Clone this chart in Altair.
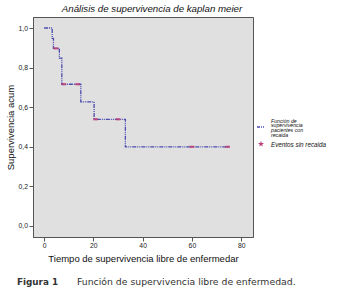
import altair as alt
import pandas as pd

# Kaplan-Meier step curve (time, cumulative survival)
step_time = [0, 3.3, 3.8, 6.2, 7.2, 14.9, 20.3, 33.0, 75.0]
step_surv = [1.0, 0.948, 0.897, 0.848, 0.716, 0.627, 0.539, 0.40, 0.40]

# Censored observations ("Eventos sin recaida")
cens_time = [4.8, 8.0, 13.6, 20.9, 30.0, 60.0, 74.5]
cens_surv = [0.897, 0.716, 0.716, 0.539, 0.539, 0.40, 0.40]

x_ticks = [0, 20, 40, 60, 80]
y_ticks = [0.0, 0.2, 0.4, 0.6, 0.8, 1.0]

title_text = "Análisis de supervivencia de kaplan meier"
x_title = "Tiempo de supervivencia libre de enfermedar"
y_title = "Supervivencia acum"
legend_line_label = ["Función de", "supervivencia", "pacientes con", "recaida"]
legend_point_label = "Eventos sin recaida"
caption_bold = "Figura 1"
caption_text = "Función de supervivencia libre de enfermedad."

LINE_COLOR = "#4a4ab0"
CENS_COLOR = "#b8407a"

km = pd.DataFrame({"t": step_time, "s": step_surv})
cens = pd.DataFrame({"t": cens_time, "s": cens_surv})
one = pd.DataFrame({"k": [0]})

xscale = alt.Scale(domain=[-4.5, 84.8], nice=False, zero=False)
yscale = alt.Scale(domain=[-0.0556, 1.0556], nice=False, zero=False)

x_enc = alt.X("t:Q", scale=xscale, axis=alt.Axis(
    values=x_ticks, title=x_title, grid=False, format="d"))
y_enc = alt.Y("s:Q", scale=yscale, axis=alt.Axis(
    values=y_ticks, title=y_title, grid=False,
    labelExpr="replace(format(datum.value, '.1f'), '.', ',')"))

line = alt.Chart(km).mark_line(
    interpolate="step-after", color=LINE_COLOR, strokeWidth=1.3,
    strokeDash=[4, 1, 1, 1, 1, 1]
).encode(x=x_enc, y=y_enc)

rect_shape = "M-1,-0.45H1V0.45H-1Z"
censor = alt.Chart(cens).mark_point(
    shape=rect_shape, filled=True, color=CENS_COLOR, size=22, opacity=0.9
).encode(x=alt.X("t:Q", scale=xscale), y=alt.Y("s:Q", scale=yscale))

# manual legend (outside the plot area on the right)
leg_line = alt.Chart(one).mark_rule(
    color=LINE_COLOR, strokeWidth=1.3, strokeDash=[3, 1, 1, 1]
).encode(x=alt.value(224), x2=alt.value(231), y=alt.value(110))

star_shape = ("M0,-1L0.24,-0.33L0.95,-0.31L0.38,0.12L0.59,0.81L0,0.4"
              "L-0.59,0.81L-0.38,0.12L-0.95,-0.31L-0.24,-0.33Z")
leg_star = alt.Chart(one).mark_point(
    shape=star_shape, filled=True, color=CENS_COLOR, size=40, opacity=1
).encode(x=alt.value(228), y=alt.value(127))

leg_text1 = alt.Chart(one).mark_text(
    text=legend_line_label, align="left", baseline="middle",
    font="Liberation Sans", fontStyle="italic", fontSize=5.2, lineHeight=4.9,
    color="#111"
).encode(x=alt.value(238), y=alt.value(103.5))

leg_text2 = alt.Chart(one).mark_text(
    text=legend_point_label, align="left", baseline="middle",
    font="Liberation Sans", fontStyle="italic", fontSize=6.3, color="#111"
).encode(x=alt.value(238), y=alt.value(127.5))

cap1 = alt.Chart(one).mark_text(
    text=caption_bold, align="left", baseline="middle",
    font="DejaVu Sans", fontWeight="bold", fontSize=8.8, color="#333"
).encode(x=alt.value(-16), y=alt.value(265))

cap2 = alt.Chart(one).mark_text(
    text=caption_text, align="left", baseline="middle",
    font="DejaVu Sans", fontSize=9.3, color="#333"
).encode(x=alt.value(44), y=alt.value(265))

chart = alt.layer(
    line, censor, leg_line, leg_star, leg_text1, leg_text2, cap1, cap2
).properties(
    width=220, height=220,
    background="white",
    autosize=alt.AutoSizeParams(type="none"),
    padding={"left": 33, "top": 17, "right": 85, "bottom": 53},
    title=alt.TitleParams(
        text=title_text, font="Liberation Sans", fontStyle="italic",
        fontWeight="normal", fontSize=9.7, color="#111", anchor="middle",
        offset=3, dx=9
    ),
).configure_view(
    fill="#e0e0e0", stroke="#555555", strokeWidth=1
).configure_axis(
    domainColor="#555555", tickColor="#555555", tickSize=4,
    labelFont="Liberation Sans", labelFontSize=6.8, labelColor="#222",
    labelPadding=1.5, titleFont="Liberation Sans", titleFontSize=9.5,
    titleFontWeight="normal", titleColor="#111"
).configure_axisY(
    titlePadding=3
).configure_axisX(
    titlePadding=4
)

chart.save("out.html", embed_options={"renderer": "svg", "actions": False})
